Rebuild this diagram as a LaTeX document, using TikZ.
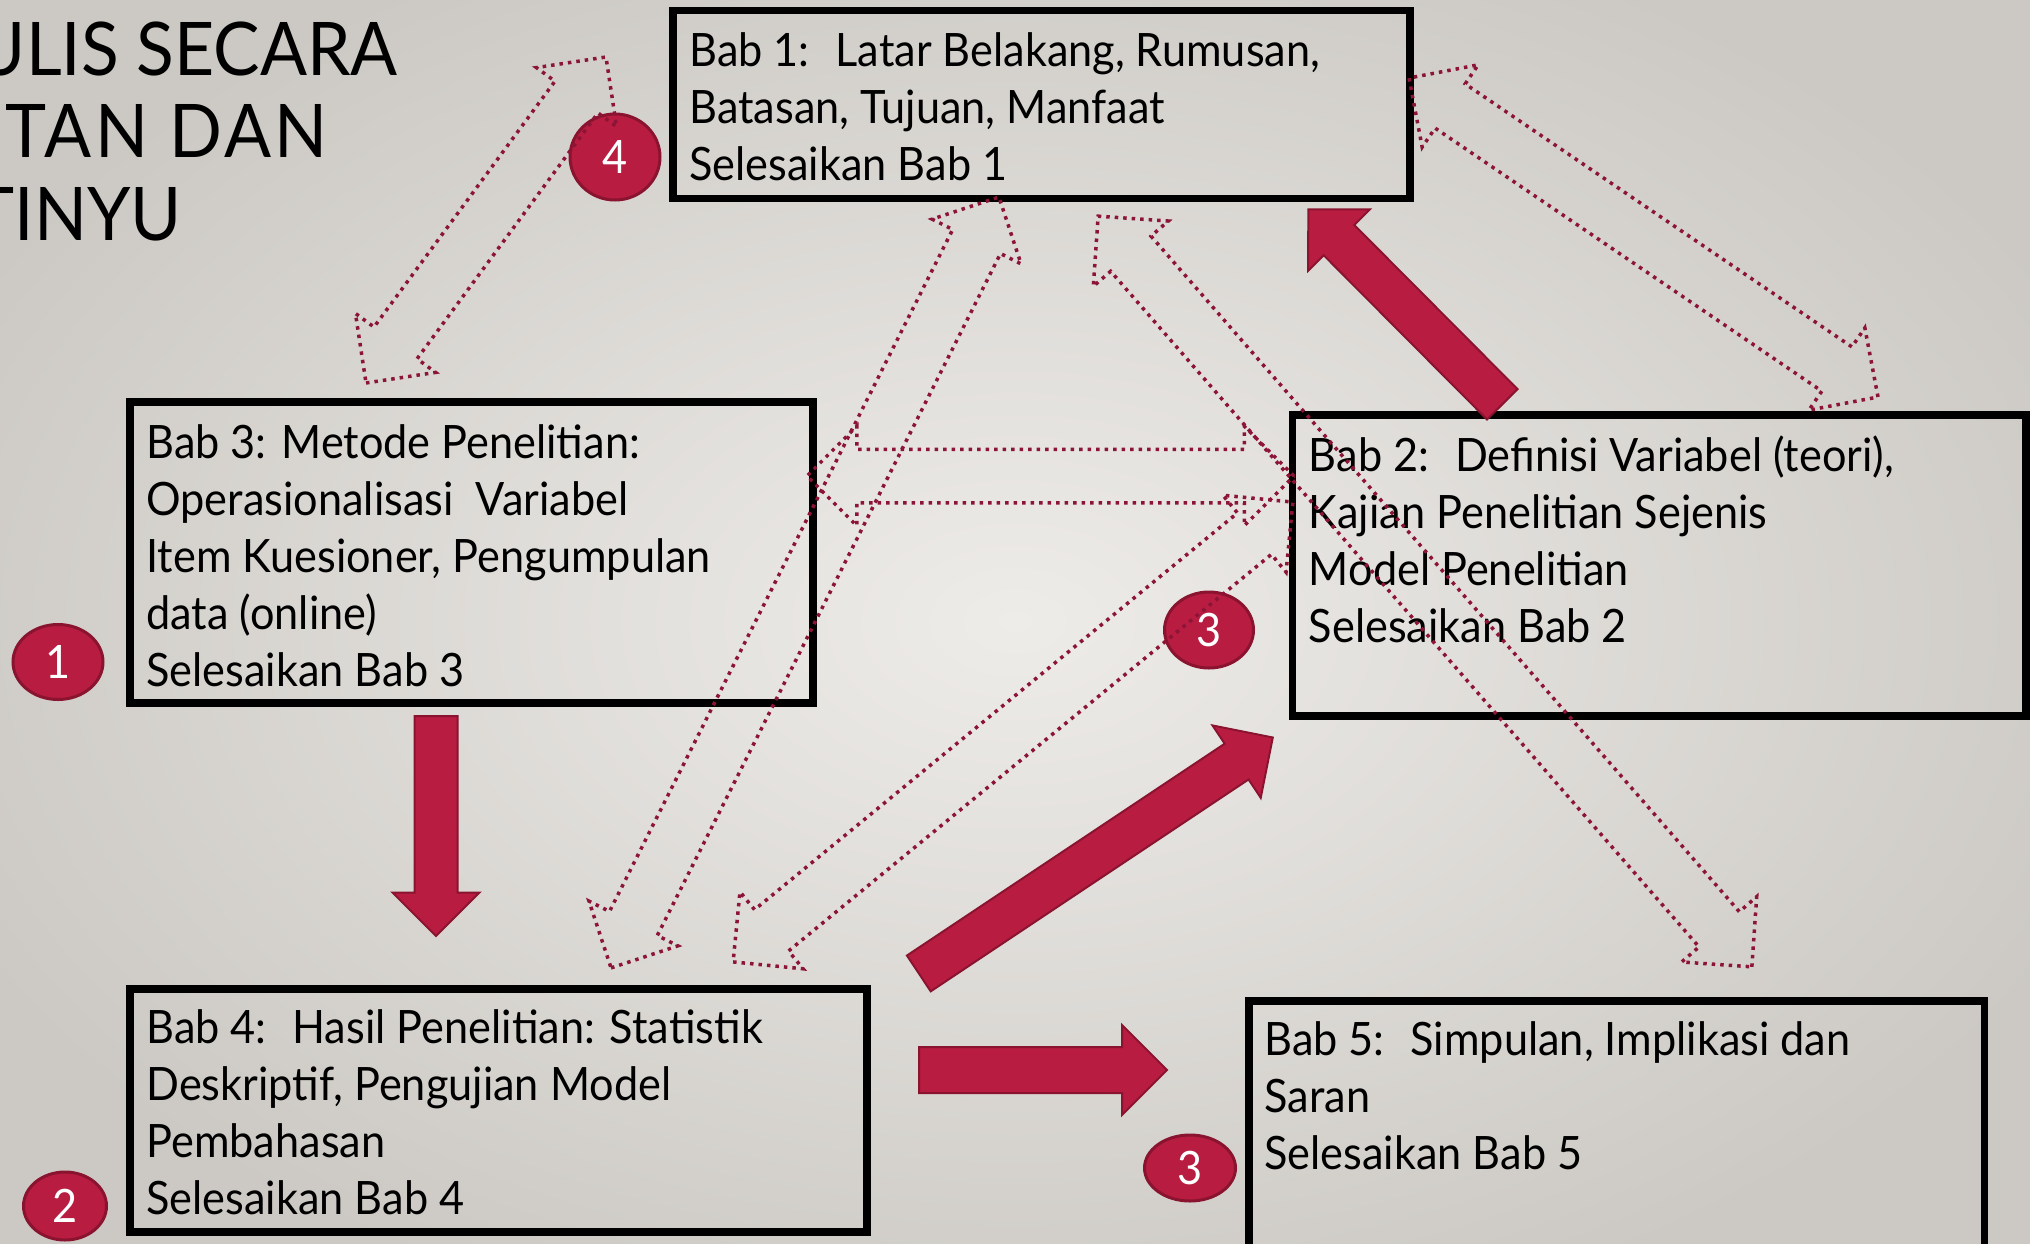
\documentclass[tikz,border=0pt]{standalone}
\usepackage{fontspec}
\setmainfont{Lato}[FakeStretch=0.94]
\usetikzlibrary{shapes.arrows,shapes.geometric,calc,positioning}

\definecolor{bgin}{RGB}{238,236,233}
\definecolor{bgout}{RGB}{204,201,196}
\definecolor{crimson}{RGB}{184,28,64}
\definecolor{crimsonline}{RGB}{138,20,48}
\definecolor{dotred}{RGB}{140,20,55}

\tikzset{
  chap/.style={draw=black, line width=7.5pt, rectangle, inner sep=0pt},
  chaptext/.style={anchor=base west, inner sep=0pt, font=\fontsize{46}{57}\selectfont},
  titletext/.style={anchor=base east, inner sep=0pt, font=\fontsize{74}{83}\selectfont},
  badge/.style={ellipse, fill=crimson, draw=crimsonline, line width=3pt, text=white, inner sep=0pt, font=\fontsize{46}{46}\selectfont},
  dotarrow/.style={double arrow, draw=dotred, line width=3.5pt, dash pattern=on 3.5pt off 5pt,
    inner xsep=0pt, inner ysep=25pt, minimum width=1pt, double arrow head extend=23pt, double arrow tip angle=90},
  redarrow/.style={single arrow, fill=crimson, draw=crimsonline, line width=2pt,
    inner xsep=0pt, inner ysep=20.5pt, minimum width=1pt, single arrow head extend=22pt, single arrow tip angle=90},
}

% panah bolak-balik: gaya, nama, ujung, ujung
\newcommand{\linkarrow}[4]{%
  \path let \p1=(#3), \p2=(#4), \n1={atan2(\y2-\y1,\x2-\x1)}, \n2={veclen(\x2-\x1,\y2-\y1)} in
    node[#1, rotate=\n1, minimum height=\n2] (#2) at ($(\p1)!0.5!(\p2)$) {};}
% panah searah: gaya, nama, pangkal, ujung
\newcommand{\steparrow}[4]{%
  \path let \p1=(#3), \p2=(#4), \n1={atan2(\y2-\y1,\x2-\x1)}, \n2={veclen(\x2-\x1,\y2-\y1)} in
    node[#1, rotate=\n1, minimum height=\n2, anchor=tail] (#2) at (\p1) {};}

\begin{document}
\begin{tikzpicture}[x=1pt, y=-1pt]
%batas
\useasboundingbox (0,0) rectangle (2030,1243);
\clip (0,0) rectangle (2030,1243);

%latar
\shade[inner color=bgin, outer color=bgout] (-150,-120) rectangle (2180,1363);

%judul
\node[titletext] (judul1) at (398,75) {ULIS SECARA};
\node[titletext, font=\fontsize{74}{83}\selectfont\addfontfeature{LetterSpace=4.5}] (judul2) at (328,157) {TAN DAN};
\node[titletext] (judul3) at (182,240) {TINYU};

%kotak bab
\node[chap, minimum width=737, minimum height=188] (bab1) at (1041.5,104.5) {};
\node[chap, minimum width=683, minimum height=301] (bab3) at (471.5,552.5) {};
\node[chap, minimum width=733.5, minimum height=301] (bab2) at (1659.25,565.5) {};
\node[chap, minimum width=737, minimum height=243] (bab4) at (498.5,1110.5) {};
\node[chap, minimum width=735.5, minimum height=259] (bab5) at (1616.75,1130.5) {};

%isi kotak
\node[chaptext] (isi1) at ($(bab1.north west)+(20,59.5)$) {\begin{tabular}[t]{@{}l@{}}
  Bab 1:~ Latar Belakang, Rumusan,\\ Batasan, Tujuan, Manfaat\\ Selesaikan Bab 1\end{tabular}};
\node[chaptext] (isi3) at ($(bab3.north west)+(20,60)$) {\begin{tabular}[t]{@{}l@{}}
  Bab 3: Metode Penelitian:\\ Operasionalisasi~ Variabel\\ Item Kuesioner, Pengumpulan\\ data (online)\\ Selesaikan Bab 3\end{tabular}};
\node[chaptext] (isi2) at ($(bab2.north west)+(20,60)$) {\begin{tabular}[t]{@{}l@{}}
  Bab 2:~ Definisi Variabel (teori),\\ Kajian Penelitian Sejenis\\ Model Penelitian\\ Selesaikan Bab 2\end{tabular}};
\node[chaptext] (isi4) at ($(bab4.north west)+(20,58)$) {\begin{tabular}[t]{@{}l@{}}
  Bab 4:~ Hasil Penelitian: Statistik\\ Deskriptif, Pengujian Model\\ Pembahasan\\ Selesaikan Bab 4\end{tabular}};
\node[chaptext] (isi5) at ($(bab5.north west)+(19,58)$) {\begin{tabular}[t]{@{}l@{}}
  Bab 5:~ Simpulan, Implikasi dan\\ Saran\\ Selesaikan Bab 5\end{tabular}};

%panah merah
\coordinate (r34a) at (436,715);  \coordinate (r34b) at (436,935);
\coordinate (r21a) at (1503,405); \coordinate (r21b) at (1309,210);
\coordinate (r42a) at (918,974);  \coordinate (r42b) at (1272,738);
\coordinate (r45a) at (918,1070); \coordinate (r45b) at (1166,1070);
\steparrow{redarrow}{maju34}{r34a}{r34b}
\steparrow{redarrow}{maju21}{r21a}{r21b}
\steparrow{redarrow}{maju42}{r42a}{r42b}
\steparrow{redarrow, inner ysep=22pt}{maju45}{r45a}{r45b}

%nomor urut
\node[badge, minimum width=90, minimum height=86] (no4) at (615,157) {4};
\node[badge, minimum width=90, minimum height=75] (no1) at (58,662) {1};
\node[badge, minimum width=83, minimum height=68] (no2) at (65,1206) {2};
\node[badge, minimum width=89, minimum height=76] (no3a) at (1209,630) {3};
\node[badge, minimum width=91, minimum height=66] (no3b) at (1190,1168) {3};

%panah bolak-balik (titik)
\coordinate (t13) at (606,57);   \coordinate (t31) at (366,383);
\coordinate (t12) at (1409,78);  \coordinate (t21) at (1878,397);
\coordinate (t14) at (999,197);  \coordinate (t41) at (611,968);
\coordinate (t15) at (1098,216); \coordinate (t51) at (1752,967);
\coordinate (t32) at (807,476);  \coordinate (t23) at (1294,476);
\coordinate (t24) at (1293,502); \coordinate (t42) at (733,962);
\linkarrow{dotarrow}{bolak13}{t13}{t31}
\linkarrow{dotarrow}{bolak12}{t12}{t21}
\linkarrow{dotarrow}{bolak14}{t14}{t41}
\linkarrow{dotarrow}{bolak15}{t15}{t51}
\linkarrow{dotarrow}{bolak32}{t32}{t23}
\linkarrow{dotarrow}{bolak24}{t24}{t42}

\end{tikzpicture}
\end{document}
